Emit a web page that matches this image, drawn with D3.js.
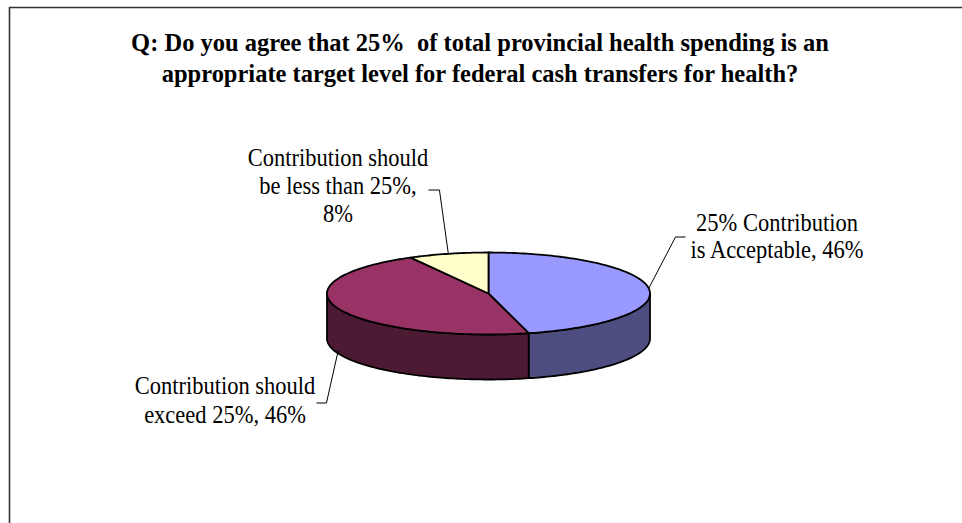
<!DOCTYPE html>
<html>
<head>
<meta charset="utf-8">
<script src="https://cdn.jsdelivr.net/npm/d3@7"></script>
<style>
  html, body { margin: 0; padding: 0; background: #fff; }
  svg { display: block; }
</style>
</head>
<body>
<svg id="chart" width="962" height="523"></svg>
<script>
// Survey responses (percent of respondents)
const categories = [
  "25% Contribution is Acceptable",
  "Contribution should exceed 25%",
  "Contribution should be less than 25%"
];
const values = [46, 46, 8];
const labelLines = [
  ["25% Contribution", "is Acceptable, 46%"],
  ["Contribution should", "exceed 25%, 46%"],
  ["Contribution should", "be less than 25%,", "8%"]
];
const topColors = ["#9999FF", "#993366", "#FFFFCC"];
const sideColors = ["#4D4D80", "#4D1A33", "#80801A"];
const titleLines = [
  "Q: Do you agree that 25%  of total provincial health spending is an",
  "appropriate target level for federal cash transfers for health?"
];

const svg = d3.select("#chart");
const serif = "'Liberation Serif','Times New Roman',serif";

// frame (top and left edges visible)
svg.append("path")
  .attr("d", "M9.5,523 L9.5,7.5 L962,7.5")
  .attr("fill", "none").attr("stroke", "#333").attr("stroke-width", 1.6);

// text block with a slight vertical stretch, anchored at its first baseline
function textBlock(parent, x, y, lines, lh, size, weight, sy) {
  const g = parent.append("g").attr("transform", `translate(${x},${y}) scale(1,${sy})`);
  const t = g.append("text")
    .attr("x", 0).attr("y", 0)
    .attr("text-anchor", "middle")
    .style("font-family", serif)
    .style("font-weight", weight)
    .style("font-size", size + "px")
    .style("white-space", "pre")
    .attr("fill", "#000");
  lines.forEach((s, k) => {
    t.append("tspan").attr("x", 0).attr("dy", k === 0 ? 0 : lh / sy).text(s);
  });
  const bb = t.node().getBBox();
  return { left: x + bb.x, right: x + bb.x + bb.width };
}

// title
textBlock(svg, 480, 51, titleLines, 31, 24.5, "bold", 1.06);

// 3D pie geometry
const cx = 488.5, cy = 293.5, rx = 161.5, ry = 41, depth = 45;
const pie = d3.pie().sort(null).value(d => d).startAngle(0).endAngle(2 * Math.PI);
const arcs = pie(values);

// angle measured clockwise from 12 o'clock
const px = a => cx + rx * Math.sin(a);
const py = a => cy - ry * Math.cos(a);

function ellipseArc(a0, a1, dy) {
  const n = Math.max(2, Math.ceil(Math.abs(a1 - a0) / 0.02));
  const pts = [];
  for (let i = 0; i <= n; i++) {
    const a = a0 + (a1 - a0) * i / n;
    pts.push([px(a), py(a) + dy]);
  }
  return pts;
}

const line = d3.line();
const gSide = svg.append("g");
const gTop = svg.append("g");

arcs.forEach((d, i) => {
  // visible front wall: angles between 90deg and 270deg
  const s0 = Math.max(d.startAngle, Math.PI / 2);
  const s1 = Math.min(d.endAngle, 3 * Math.PI / 2);
  if (s1 > s0) {
    const pts = ellipseArc(s0, s1, 0).concat(ellipseArc(s1, s0, depth));
    gSide.append("path")
      .attr("d", line(pts) + "Z")
      .attr("fill", sideColors[i])
      .attr("stroke", "#000").attr("stroke-width", 1.8)
      .attr("stroke-linejoin", "round");
  }
  const top = [[cx, cy]].concat(ellipseArc(d.startAngle, d.endAngle, 0));
  gTop.append("path")
    .attr("d", line(top) + "Z")
    .attr("fill", topColors[i])
    .attr("stroke", "#000").attr("stroke-width", 1.8)
    .attr("stroke-linejoin", "round");
});

// data labels with leader lines
// side: where the leader leaves the text block; ly: its offset from the
// first baseline; gap/stub: horizontal segment; drop: anchor below top face
const labelLayout = [
  { x: 777, y: 231, lh: 27, side: "left",  ly: 6,  gap: 5, stub: 10, drop: 0 },
  { x: 225, y: 394, lh: 29, side: "right", ly: 9,  gap: 1, stub: 10, drop: depth * 0.92 },
  { x: 338, y: 166, lh: 28, side: "right", ly: 24, gap: 0, stub: 11, drop: 0 }
];
const gLab = svg.append("g");
arcs.forEach((d, i) => {
  const L = labelLayout[i];
  const mid = (d.startAngle + d.endAngle) / 2;
  const ax = px(mid), ay = py(mid) + L.drop;
  const ext = textBlock(gLab, L.x, L.y, labelLines[i], L.lh, 22.5, "normal", 1.1);
  const y = L.y + L.ly;
  let x0, x1;
  if (L.side === "left") { x0 = ext.left - L.gap; x1 = x0 - L.stub; }
  else { x0 = ext.right + L.gap; x1 = x0 + L.stub; }
  gLab.append("path")
    .attr("d", d3.line()([[x0, y], [x1, y], [ax, ay]]))
    .attr("fill", "none").attr("stroke", "#000").attr("stroke-width", 1);
});
</script>
</body>
</html>
